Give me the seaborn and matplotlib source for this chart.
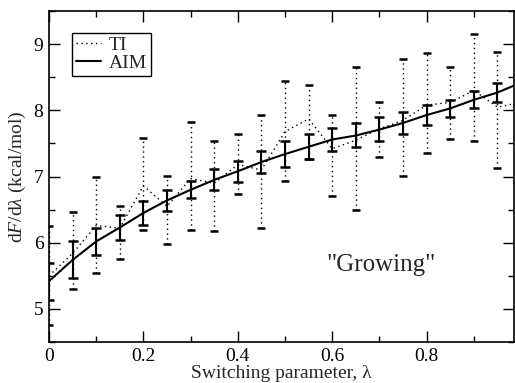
import numpy as np
import pandas as pd
import matplotlib
matplotlib.use("Agg")
import matplotlib.pyplot as plt
import seaborn as sns

# datos
lam = [0.0, 0.05, 0.1, 0.15, 0.2, 0.25, 0.3, 0.35, 0.4, 0.45, 0.5,
       0.55, 0.6, 0.65, 0.7, 0.75, 0.8, 0.85, 0.9, 0.95, 1.0]

ti_mean = [5.5, 5.84, 6.26, 6.22, 6.86, 6.55, 6.97, 6.9, 7.18, 7.1, 7.68,
           7.87, 7.42, 7.55, 7.72, 7.85, 8.08, 8.12, 8.3, 8.05, 8.12]
ti_top = [6.25, 6.47, 7.0, 6.56, 7.58, 7.01, 7.83, 7.54, 7.65, 7.93, 8.44,
          8.39, 7.93, 8.66, 8.12, 8.78, 8.86, 8.65, 9.15, 8.88, 8.9]
ti_bot = [4.75, 5.3, 5.55, 5.75, 6.2, 5.98, 6.2, 6.17, 6.74, 6.22, 6.93,
          7.26, 6.71, 6.49, 7.3, 7.01, 7.35, 7.57, 7.53, 7.13, 7.3]

aim_mean = [5.42, 5.74, 6.02, 6.23, 6.45, 6.64, 6.8, 6.95, 7.08, 7.22, 7.34,
            7.45, 7.56, 7.62, 7.71, 7.81, 7.93, 8.03, 8.16, 8.27, 8.42]
aim_top = [5.7, 6.02, 6.23, 6.42, 6.63, 6.8, 6.94, 7.11, 7.24, 7.38, 7.53,
           7.64, 7.74, 7.81, 7.9, 7.97, 8.08, 8.16, 8.29, 8.42, 8.55]
aim_bot = [5.14, 5.46, 5.81, 6.04, 6.27, 6.48, 6.67, 6.79, 6.92, 7.06, 7.15,
           7.26, 7.39, 7.44, 7.53, 7.65, 7.78, 7.9, 8.04, 8.13, 8.25]

df = pd.DataFrame({"lam": lam, "TI": ti_mean, "AIM": aim_mean})

sns.set_style("ticks")
plt.rcParams['font.family'] = ['Liberation Serif', 'DejaVu Serif']
plt.rcParams['mathtext.fontset'] = 'custom'
plt.rcParams['mathtext.rm'] = 'Liberation Serif'
plt.rcParams['mathtext.it'] = 'Liberation Serif:italic'

fig = plt.figure(figsize=(5.15, 3.83), dpi=100)
ax = fig.add_axes([0.0951, 0.107, 0.903, 0.864])

# barras de error
ti_err = [np.array(ti_mean) - np.array(ti_bot), np.array(ti_top) - np.array(ti_mean)]
aim_err = [np.array(aim_mean) - np.array(aim_bot), np.array(aim_top) - np.array(aim_mean)]

eb = ax.errorbar(lam, ti_mean, yerr=ti_err, fmt='none', ecolor='black',
                 elinewidth=1.0, capsize=3, capthick=1.8)
eb[2][0].set_linestyle((0, (1, 2.5)))
ax.errorbar(lam, aim_mean, yerr=aim_err, fmt='none', ecolor='black',
            elinewidth=1.5, capsize=3.5, capthick=1.8)

sns.lineplot(data=df, x="lam", y="TI", ax=ax, color='black', lw=1.0,
             linestyle=(0, (1, 2.5)), label='TI')
sns.lineplot(data=df, x="lam", y="AIM", ax=ax, color='black', lw=1.5,
             label='AIM')

ax.text(0.703, 5.67, '"Growing"', fontsize=18, ha='center', va='center')

ax.set_xlim(0, 0.985)
ax.set_ylim(4.55, 9.5)
ax.set_xticks([0, 0.2, 0.4, 0.6, 0.8])
ax.set_xticklabels(['0', '0.2', '0.4', '0.6', '0.8'])
ax.set_xticks(np.arange(0.1, 1.0, 0.2), minor=True)
ax.set_yticks([5, 6, 7, 8, 9])
ax.set_yticks([4.5, 5.5, 6.5, 7.5, 8.5, 9.5], minor=True)
ax.tick_params(which='both', direction='in', top=True, right=True,
               labelsize=14, colors='black', pad=4)
ax.tick_params(which='major', length=8, width=1)
ax.tick_params(which='minor', length=4, width=1)
for s in ax.spines.values():
    s.set_linewidth(1.2)
    s.set_color('black')

ax.set_xlabel(r'Switching parameter, λ', fontsize=14, labelpad=0)
ax.set_ylabel(r'd$F$/d$\lambda$ (kcal/mol)', fontsize=14, labelpad=4)

leg = ax.legend(loc='upper left', bbox_to_anchor=(0.049, 0.935), fontsize=14,
                handlelength=1.3, handletextpad=0.4, borderpad=0.2,
                labelspacing=0.0, fancybox=False, framealpha=1,
                edgecolor='black', borderaxespad=0)
leg.get_frame().set_linewidth(1.0)

fig.savefig("out.png", dpi=100)
